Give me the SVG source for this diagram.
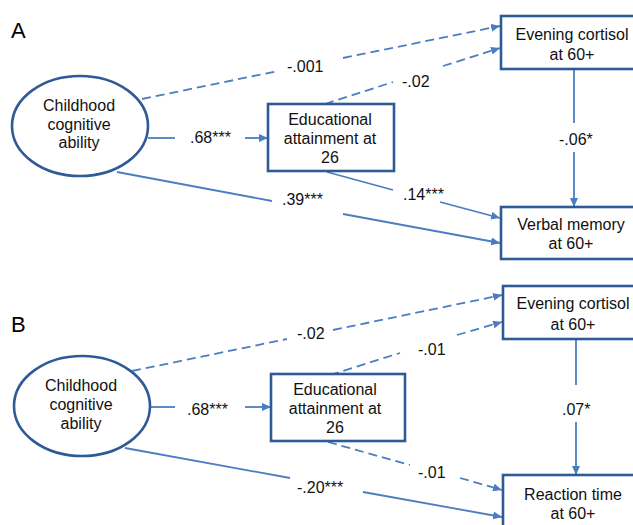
<svg xmlns="http://www.w3.org/2000/svg" width="633" height="525" viewBox="0 0 633 525">
<defs>
<style>
.node{fill:#fff;stroke:#2E5A96;stroke-width:2.6}
.t{font-family:"Liberation Sans",Arial,sans-serif;font-size:16px;fill:#111;text-anchor:middle}
.lbl{font-family:"Liberation Sans",Arial,sans-serif;font-size:16px;fill:#111}
.panel{font-family:"Liberation Sans",Arial,sans-serif;font-size:22px;fill:#000}
.c{stroke:#4A7EC0;stroke-width:1.8;fill:none}
.d{stroke-dasharray:9 5}
</style>
<marker id="ah" markerUnits="userSpaceOnUse" markerWidth="10" markerHeight="8" refX="9" refY="4" orient="auto">
<path d="M0,0 L9,4 L0,8 z" fill="#4A7EC0"/>
</marker>
</defs>
<rect width="633" height="525" fill="#fff"/>
<text class="panel" x="11" y="38">A</text>
<text class="panel" x="11" y="332">B</text>

<g id="connectors">
<!-- Panel A -->
<line class="c d" x1="142" y1="99" x2="278" y2="71"/>
<line class="c d" x1="343" y1="58" x2="500" y2="26" marker-end="url(#ah)"/>
<line class="c d" x1="325" y1="104" x2="393" y2="82"/>
<line class="c d" x1="443" y1="66" x2="500" y2="48" marker-end="url(#ah)"/>
<line class="c" x1="148" y1="138" x2="175" y2="138"/>
<line class="c" x1="245" y1="138" x2="268" y2="138" marker-end="url(#ah)"/>
<line class="c" x1="327" y1="172" x2="393" y2="190"/>
<line class="c" x1="440" y1="202" x2="500" y2="218" marker-end="url(#ah)"/>
<line class="c" x1="117" y1="172" x2="272" y2="201"/>
<line class="c" x1="343" y1="214" x2="500" y2="243" marker-end="url(#ah)"/>
<line class="c" x1="574" y1="70" x2="574" y2="123"/>
<line class="c" x1="574" y1="152" x2="574" y2="207" marker-end="url(#ah)"/>
<!-- Panel B -->
<line class="c d" x1="132" y1="371" x2="287" y2="339"/>
<line class="c d" x1="333" y1="330" x2="502" y2="295" marker-end="url(#ah)"/>
<line class="c d" x1="330" y1="375" x2="400" y2="353"/>
<line class="c d" x1="457" y1="335" x2="502" y2="322" marker-end="url(#ah)"/>
<line class="c" x1="150" y1="407" x2="175" y2="407"/>
<line class="c" x1="245" y1="407" x2="271" y2="407" marker-end="url(#ah)"/>
<line class="c d" x1="328" y1="442" x2="410" y2="465"/>
<line class="c d" x1="460" y1="478" x2="502" y2="490" marker-end="url(#ah)"/>
<line class="c" x1="125" y1="448" x2="290" y2="478"/>
<line class="c" x1="363" y1="492" x2="502" y2="517" marker-end="url(#ah)"/>
<line class="c" x1="576" y1="340" x2="576" y2="385"/>
<line class="c" x1="576" y1="422" x2="576" y2="475" marker-end="url(#ah)"/>

<!-- labels -->
<text class="lbl" x="287" y="72">-.001</text>
<text class="lbl" x="402" y="87">-.02</text>
<text class="lbl" x="190" y="143">.68***</text>
<text class="lbl" x="403" y="200">.14***</text>
<text class="lbl" x="282" y="205">.39***</text>
<text class="lbl" x="559" y="145">-.06*</text>
<text class="lbl" x="297" y="339">-.02</text>
<text class="lbl" x="418" y="355">-.01</text>
<text class="lbl" x="187" y="415">.68***</text>
<text class="lbl" x="418" y="478">-.01</text>
<text class="lbl" x="297" y="493">-.20***</text>
<text class="lbl" x="562" y="415">.07*</text>
</g>

<g id="childA">
<ellipse class="node" cx="80" cy="126" rx="68" ry="50"/>
<text class="t" x="79" y="111">Childhood</text>
<text class="t" x="79" y="130">cognitive</text>
<text class="t" x="79" y="148">ability</text>
</g>
<g id="eduA">
<rect class="node" x="268" y="104" width="126" height="67"/>
<text class="t" x="330" y="125">Educational</text>
<text class="t" x="330" y="144">attainment at</text>
<text class="t" x="330" y="163">26</text>
</g>
<g id="cortA">
<rect class="node" x="501" y="16" width="150" height="53"/>
<text class="t" x="572" y="40">Evening cortisol</text>
<text class="t" x="572" y="60">at 60+</text>
</g>
<g id="verbalA">
<rect class="node" x="501" y="207" width="150" height="52"/>
<text class="t" x="571" y="230">Verbal memory</text>
<text class="t" x="571" y="249">at 60+</text>
</g>

<g id="childB">
<ellipse class="node" cx="82" cy="406" rx="68" ry="50"/>
<text class="t" x="81" y="391">Childhood</text>
<text class="t" x="81" y="410">cognitive</text>
<text class="t" x="81" y="429">ability</text>
</g>
<g id="eduB">
<rect class="node" x="271" y="374" width="134" height="67"/>
<text class="t" x="335" y="395">Educational</text>
<text class="t" x="335" y="414">attainment at</text>
<text class="t" x="335" y="433">26</text>
</g>
<g id="cortB">
<rect class="node" x="503" y="286" width="150" height="53"/>
<text class="t" x="573" y="309">Evening cortisol</text>
<text class="t" x="573" y="330">at 60+</text>
</g>
<g id="reactB">
<rect class="node" x="503" y="475" width="150" height="70"/>
<text class="t" x="573" y="500">Reaction time</text>
<text class="t" x="573" y="519">at 60+</text>
</g>
</svg>
